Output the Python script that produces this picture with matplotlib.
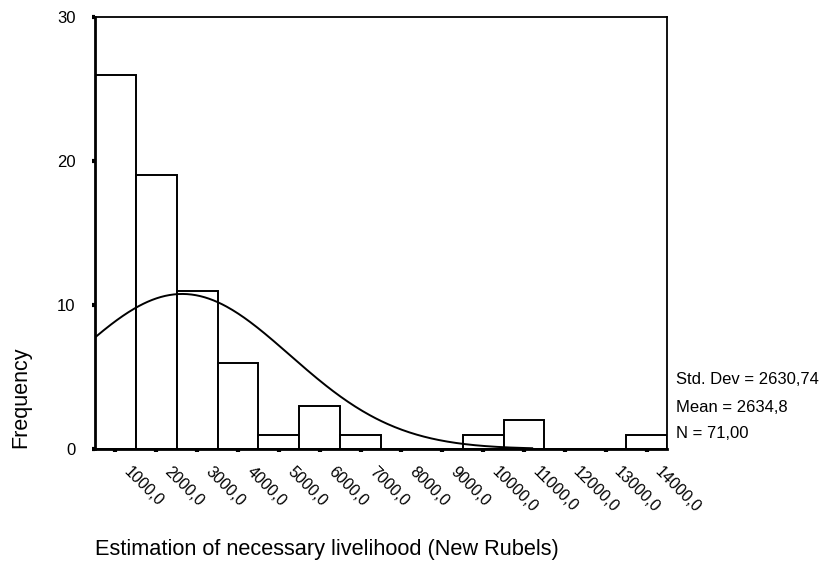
import numpy as np
import matplotlib
matplotlib.use("Agg")
import matplotlib.pyplot as plt
import matplotlib.transforms as mtransforms

plt.rcParams["font.family"] = ["Liberation Sans", "DejaVu Sans"]

# histogram bins (centres) and frequencies
bin_centers = [1000, 2000, 3000, 4000, 5000, 6000, 7000, 8000, 9000, 10000, 11000, 12000, 13000, 14000]
counts = [26, 19, 11, 6, 1, 3, 1, 0, 0, 1, 2, 0, 0, 1]
tick_labels = ["1000,0", "2000,0", "3000,0", "4000,0", "5000,0", "6000,0", "7000,0",
               "8000,0", "9000,0", "10000,0", "11000,0", "12000,0", "13000,0", "14000,0"]
bin_width = 1000

# summary statistics shown on the chart
std_dev = 2630.74
mean = 2634.8
n_obs = 71

fig = plt.figure(figsize=(8.23, 5.64), dpi=100)
ax = fig.add_axes([95 / 823, 1 - 449 / 564, 572 / 823, 432 / 564])

ax.bar(bin_centers, counts, width=bin_width, color="white", edgecolor="black", linewidth=1.4)

# fitted normal curve, scaled to counts
xs = np.linspace(500, 11200, 300)
ys = n_obs * bin_width / (std_dev * np.sqrt(2 * np.pi)) * np.exp(-0.5 * ((xs - mean) / std_dev) ** 2)
ax.plot(xs, ys, color="black", linewidth=1.4)

ax.set_xlim(500, 14500)
ax.set_ylim(0, 30)
ax.set_yticks([0, 10, 20, 30])
ax.set_xticks(bin_centers)
ax.set_xticklabels(tick_labels, rotation=-45, ha="left", va="top", fontsize=11.5)
ax.tick_params(axis="both", direction="out", length=2, width=3)
ax.tick_params(axis="x", pad=9)
ax.tick_params(axis="y", pad=12, labelsize=12)

# shift the rotated labels a little to the right of their ticks
offset = mtransforms.ScaledTranslation(4 / 72, 0, fig.dpi_scale_trans)
for lab in ax.get_xticklabels():
    lab.set_transform(lab.get_transform() + offset)

for side in ["left", "bottom"]:
    ax.spines[side].set_linewidth(2)
for side in ["top", "right"]:
    ax.spines[side].set_linewidth(1.3)

fig.text(95 / 823, 1 - 550 / 564, "Estimation of necessary livelihood (New Rubels)",
         fontsize=15.7, ha="left", va="center")
fig.text(21 / 823, 1 - 397 / 564, "Frequency", fontsize=15.5, rotation=90,
         ha="center", va="center")

stats = ["Std. Dev = " + f"{std_dev:.2f}".replace(".", ","),
         "Mean = " + f"{mean:.1f}".replace(".", ","),
         "N = " + f"{n_obs:.2f}".replace(".", ",")]
for i, s in enumerate(stats):
    fig.text(676 / 823, 1 - (380 + i * 27) / 564, s, fontsize=12, ha="left", va="center")

fig.savefig("out.png", dpi=100)
